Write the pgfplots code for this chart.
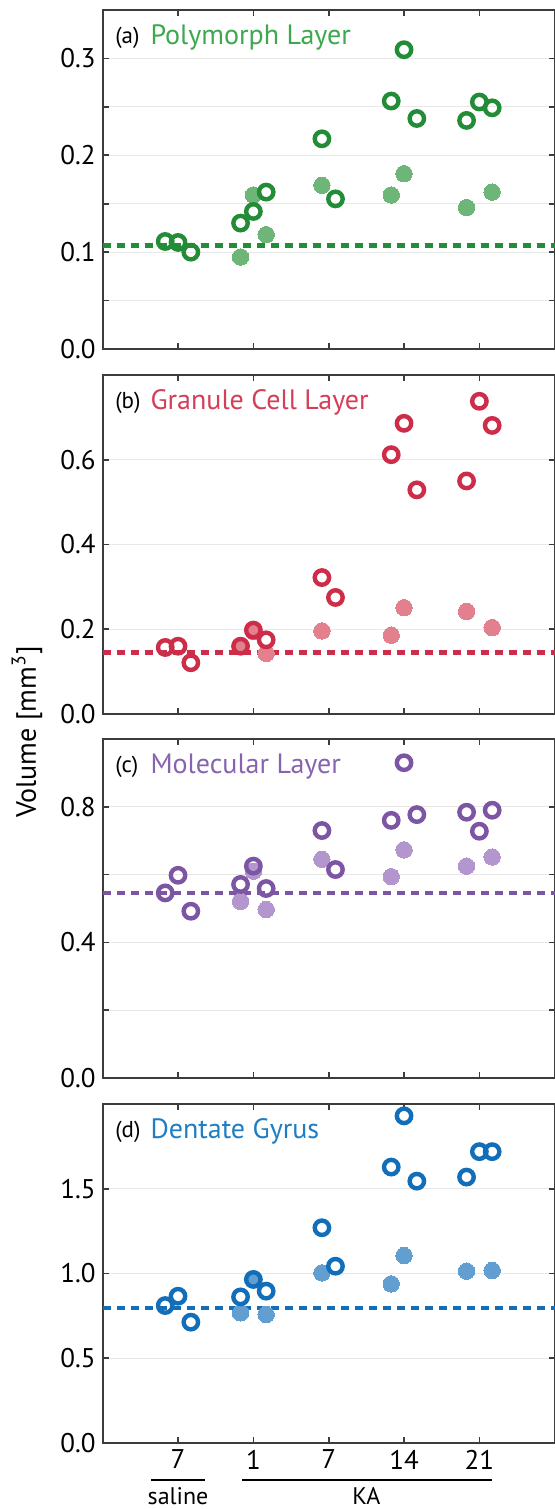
\documentclass[border=0pt]{standalone}
\usepackage{fontspec}
\setmainfont{PT Sans}
\usepackage{pgfplots}
\pgfplotsset{compat=1.18}

% colours: open ring, filled dot, title
\definecolor{gO}{RGB}{35,140,55}
\definecolor{gF}{RGB}{110,182,120}
\definecolor{gT}{RGB}{62,168,78}
\definecolor{rO}{RGB}{205,45,72}
\definecolor{rF}{RGB}{226,128,142}
\definecolor{rT}{RGB}{212,62,88}
\definecolor{pO}{RGB}{125,85,165}
\definecolor{pF}{RGB}{178,150,205}
\definecolor{pT}{RGB}{135,100,175}
\definecolor{bO}{RGB}{18,110,185}
\definecolor{bF}{RGB}{98,158,208}
\definecolor{bT}{RGB}{30,125,195}
\definecolor{axc}{RGB}{60,60,60}

\def\px{0.5pt}

\pgfplotsset{
  panel/.style={
    scale only axis,
    width=226pt, height=169.5pt,
    anchor=south west,
    xmin=0, xmax=6, ymin=0,
    xtick={1,2,3,4,5}, xticklabels={},
    xtick pos=both, ytick pos=both,
    tick align=inside,
    major tick length=3pt, minor tick length=3pt,
    ymajorgrids, yminorgrids,
    major grid style={line width=0.6pt, black!9},
    minor grid style={line width=0.6pt, black!9},
    axis line style={axc, line width=0.8pt},
    every tick/.style={axc, line width=0.8pt},
    tick label style={font=\fontsize{13.5}{15}\selectfont},
    yticklabel style={/pgf/number format/.cd, fixed, fixed zerofill, precision=1},
    /pgf/number format/assume math mode=true,
    clip=false,
  },
  ring/.style={only marks, mark=o, mark size=3.6pt, line width=2.2pt, color=#1},
  dot/.style={only marks, mark=*, mark size=4.1pt, color=#1, line width=0pt},
  base/.style={line width=2.2pt, dash pattern=on 4pt off 3pt, color=#1},
}

\newcommand{\paneltitle}[3]{%
  \node[anchor=west, inner sep=0pt, font=\fontsize{11.5}{13}\selectfont]
    at (rel axis cs:0.027,0.918) {#1};
  \node[anchor=west, inner sep=0pt, text=#3, font=\fontsize{14}{16}\selectfont]
    at (rel axis cs:0.105,0.918) {#2};
}

\begin{document}
\begin{tikzpicture}
\useasboundingbox (0,0) rectangle (555*\px,-1509*\px);

% (a) Polymorph Layer
\begin{axis}[panel, at={(102.7*\px,-349*\px)}, ymax=0.35,
  ytick={0,0.1,0.2,0.3}, minor ytick={0.05,0.15,0.25}]
  \addplot[base=gO] coordinates {(0,0.107) (6,0.107)};
  \addplot[dot=gF] coordinates {
    (1.83,0.095) (2,0.159) (2.17,0.118) (2.91,0.169)
    (3.83,0.159) (4,0.181) (4.83,0.146) (5.17,0.162)};
  \addplot[ring=gO] coordinates {
    (0.83,0.111) (1,0.110) (1.17,0.100)
    (1.83,0.130) (2,0.142) (2.17,0.162)
    (2.91,0.217) (3.09,0.155)
    (3.83,0.256) (4,0.309) (4.17,0.238)
    (4.83,0.236) (5,0.255) (5.17,0.249)};
  \paneltitle{(a)}{Polymorph Layer}{gT}
\end{axis}

% (b) Granule Cell Layer
\begin{axis}[panel, at={(102.7*\px,-714*\px)}, ymax=0.8,
  ytick={0,0.2,0.4,0.6}]
  \addplot[base=rO] coordinates {(0,0.145) (6,0.145)};
  \addplot[dot=rF] coordinates {
    (1.83,0.160) (2,0.195) (2.17,0.143) (2.91,0.196)
    (3.83,0.186) (4,0.251) (4.83,0.242) (5.17,0.204)};
  \addplot[ring=rO] coordinates {
    (0.83,0.157) (1,0.160) (1.17,0.121)
    (1.83,0.160) (2,0.198) (2.17,0.175)
    (2.91,0.322) (3.09,0.275)
    (3.83,0.612) (4,0.686) (4.17,0.529)
    (4.83,0.550) (5,0.738) (5.17,0.681)};
  \paneltitle{(b)}{Granule Cell Layer}{rT}
\end{axis}

% (c) Molecular Layer
\begin{axis}[panel, at={(102.7*\px,-1078*\px)}, ymax=1.0,
  ytick={0,0.4,0.8}, minor ytick={0.2,0.6}]
  \addplot[base=pO] coordinates {(0,0.546) (6,0.546)};
  \addplot[dot=pF] coordinates {
    (1.83,0.521) (2,0.610) (2.17,0.497) (2.91,0.645)
    (3.83,0.594) (4,0.673) (4.83,0.625) (5.17,0.652)};
  \addplot[ring=pO] coordinates {
    (0.83,0.546) (1,0.598) (1.17,0.492)
    (1.83,0.571) (2,0.625) (2.17,0.559)
    (2.91,0.730) (3.09,0.615)
    (3.83,0.760) (4,0.930) (4.17,0.777)
    (4.83,0.784) (5,0.728) (5.17,0.790)};
  \paneltitle{(c)}{Molecular Layer}{pT}
\end{axis}

% (d) Dentate Gyrus
\begin{axis}[panel, at={(102.7*\px,-1443*\px)}, ymax=2.0,
  ytick={0,0.5,1.0,1.5},
  xticklabels={7,1,7,14,21},
  xticklabel style={yshift=0pt}]
  \addplot[base=bO] coordinates {(0,0.797) (6,0.797)};
  \addplot[dot=bF] coordinates {
    (1.83,0.768) (2,0.965) (2.17,0.758) (2.91,1.004)
    (3.83,0.939) (4,1.106) (4.83,1.014) (5.17,1.018)};
  \addplot[ring=bO] coordinates {
    (0.83,0.811) (1,0.866) (1.17,0.713)
    (1.83,0.862) (2,0.965) (2.17,0.896)
    (2.91,1.270) (3.09,1.043)
    (3.83,1.628) (4,1.930) (4.17,1.545)
    (4.83,1.569) (5,1.719) (5.17,1.719)};
  \paneltitle{(d)}{Dentate Gyrus}{bT}
  \draw[line width=1.3pt] ([yshift=-18.5pt]axis cs:0.64,0) -- ([yshift=-18.5pt]axis cs:1.36,0);
  \draw[line width=1.3pt] ([yshift=-18.5pt]axis cs:1.85,0) -- ([yshift=-18.5pt]axis cs:5.17,0);
  \node[font=\fontsize{12}{14}\selectfont, inner sep=0pt, anchor=base] at ([yshift=-30.5pt]axis cs:1,0) {saline};
  \node[font=\fontsize{12}{14}\selectfont, inner sep=0pt, anchor=base] at ([yshift=-30.5pt]axis cs:3.5,0) {KA};
\end{axis}

\node[rotate=90, font=\fontsize{14}{16}\selectfont] at (27*\px,-732*\px) {Volume [mm\textsuperscript{3}]};
\end{tikzpicture}
\end{document}
